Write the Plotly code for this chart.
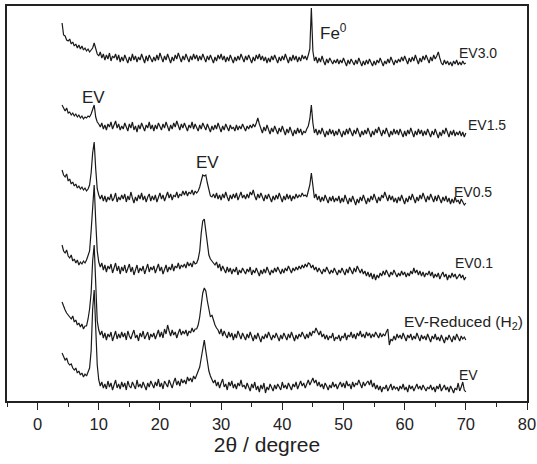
import numpy as np
import plotly.graph_objects as go

# 2-theta scan grid (degrees), 4 to 70 in 0.25 steps
two_theta = np.round(np.arange(4.0, 70.0001, 0.25), 2)

# stacked intensities (a.u., offset already included)
ev = [48, 44, 41, 43, 38, 36, 37, 33, 31, 33, 28, 30, 26, 28, 24, 27, 25, 29, 33, 50,
      92, 111, 78, 36, 21, 15, 19, 13, 17, 12, 20, 14, 18, 11, 16, 21, 13, 17, 12, 19,
      14, 18, 11, 20, 15, 13, 19, 16, 12, 21, 14, 17, 13, 19, 15, 11, 18, 14, 20, 16,
      13, 19, 15, 22, 14, 18, 12, 20, 16, 14, 21, 17, 13, 19, 23, 16, 20, 15, 22, 18,
      21, 17, 24, 20, 23, 19, 25, 22, 26, 29, 34, 43, 54, 61, 50, 38, 30, 25, 22, 18,
      21, 15, 19, 13, 18, 22, 14, 17, 11, 19, 15, 20, 13, 17, 12, 18, 15, 21, 14, 16,
      12, 18, 14, 10, 17, 13, 19, 11, 15, 9, 16, 12, 18, 8, 14, 11, 17, 13, 10, 16,
      12, 17, 14, 11, 19, 13, 16, 12, 18, 15, 11, 17, 14, 19, 12, 16, 20, 15, 18, 13,
      17, 21, 16, 19, 23, 18, 21, 15, 19, 14, 17, 12, 18, 15, 11, 16, 13, 19, 14, 17,
      12, 16, 19, 14, 18, 13, 20, 15, 17, 12, 19, 14, 18, 16, 21, 17, 13, 19, 15, 18,
      20, 16, 21, 14, 18, 12, 16, 11, 15, 9, 14, 12, 16, 10, 13, 17, 11, 15, 12, 14,
      10, 15, 12, 17, 11, 14, 9, 16, 12, 15, 10, 13, 17, 12, 15, 11, 16, 13, 10, 14,
      12, 16, 11, 14, 9, 15, 12, 17, 10, 13, 16, 11, 14, 9, 15, 12, 8, 13, 11, 18,
      10, 14, 19, 11, 9]

ev_reduced = [99, 94, 91, 88, 86, 84, 82, 85, 79, 81, 76, 78, 74, 77, 72, 75, 75, 82, 92, 108,
              140, 156, 118, 80, 71, 66, 70, 63, 68, 61, 67, 64, 69, 60, 65, 70, 62, 67, 63, 69,
              64, 68, 61, 70, 65, 62, 67, 71, 63, 66, 60, 68, 64, 70, 62, 65, 69, 61, 67, 64,
              68, 62, 66, 71, 64, 69, 63, 72, 67, 76, 70, 65, 71, 66, 69, 63, 68, 72, 66, 70,
              67, 71, 65, 70, 68, 73, 69, 72, 72, 76, 84, 98, 108, 113, 110, 100, 90, 84, 86, 80,
              76, 73, 71, 67, 72, 65, 70, 66, 63, 69, 64, 68, 61, 67, 63, 70, 65, 62, 68, 64,
              61, 67, 63, 69, 65, 60, 66, 62, 68, 64, 59, 65, 62, 67, 63, 69, 65, 61, 66, 63,
              68, 64, 60, 66, 62, 68, 65, 61, 67, 63, 69, 64, 60, 66, 62, 67, 64, 69, 65, 62,
              67, 63, 69, 65, 70, 68, 73, 69, 66, 70, 64, 67, 62, 66, 61, 65, 63, 68, 60, 64,
              62, 66, 60, 65, 63, 68, 61, 66, 64, 69, 63, 67, 62, 68, 65, 70, 64, 67, 63, 69,
              65, 68, 63, 67, 64, 69, 66, 63, 68, 64, 67, 65, 69, 72, 56, 62, 60, 65, 61, 67,
              63, 66, 62, 68, 64, 60, 66, 63, 67, 61, 65, 62, 68, 64, 60, 66, 62, 65, 61, 67,
              63, 59, 65, 62, 67, 61, 64, 60, 66, 62, 58, 64, 61, 66, 62, 59, 65, 61, 67, 63,
              60, 65, 62, 64, 61]

ev_01 = [156, 150, 148, 151, 145, 143, 146, 140, 142, 138, 141, 136, 139, 137, 140, 138, 141, 145, 150, 170,
         200, 216, 180, 150, 139, 134, 138, 131, 136, 129, 135, 132, 137, 128, 133, 138, 130, 135, 127, 134,
         130, 136, 128, 133, 137, 129, 134, 126, 132, 136, 128, 133, 130, 135, 127, 132, 137, 129, 134, 131,
         135, 128, 133, 137, 130, 134, 127, 132, 136, 129, 134, 131, 137, 130, 135, 133, 138, 132, 136, 134,
         137, 133, 139, 135, 138, 134, 140, 137, 138, 142, 150, 168, 180, 182, 170, 155, 146, 142, 140, 138,
         136, 139, 133, 137, 130, 135, 132, 128, 134, 129, 133, 127, 132, 129, 134, 126, 131, 128, 133, 130,
         127, 132, 129, 134, 126, 131, 128, 133, 129, 125, 131, 127, 132, 128, 134, 130, 126, 131, 128, 133,
         129, 134, 130, 127, 132, 128, 133, 130, 135, 131, 128, 133, 130, 134, 131, 135, 132, 136, 133, 137,
         134, 138, 137, 133, 136, 131, 134, 129, 133, 130, 127, 132, 129, 134, 130, 127, 131, 128, 133, 129,
         126, 131, 128, 133, 129, 126, 132, 128, 134, 130, 127, 133, 129, 135, 131, 128, 132, 127, 130, 125,
         129, 124, 128, 122, 127, 121, 126, 123, 128, 125, 130, 126, 131, 127, 124, 129, 126, 131, 127, 124,
         128, 125, 130, 126, 129, 124, 128, 125, 130, 127, 133, 128, 131, 126, 130, 125, 129, 124, 128, 126,
         130, 125, 129, 123, 127, 124, 128, 122, 126, 129, 124, 127, 121, 126, 123, 128, 124, 127, 122, 125,
         127, 123, 126, 121, 124]

ev_05 = [231, 226, 224, 227, 220, 222, 217, 219, 215, 217, 213, 215, 212, 214, 211, 213, 210, 212, 216, 228,
         248, 259, 232, 212, 206, 202, 206, 200, 205, 199, 204, 201, 207, 200, 203, 208, 199, 204, 201, 206,
         202, 207, 199, 205, 201, 209, 203, 198, 204, 200, 206, 202, 208, 201, 205, 199, 204, 207, 200, 205,
         201, 206, 199, 204, 208, 202, 206, 200, 205, 209, 203, 207, 201, 206, 204, 209, 203, 207, 205, 210,
         206, 210, 205, 209, 207, 211, 206, 210, 208, 210, 214, 222, 226, 225, 226, 218, 210, 205, 204, 207,
         203, 208, 202, 206, 201, 207, 203, 209, 204, 200, 206, 202, 207, 203, 208, 201, 205, 209, 203, 206,
         202, 207, 203, 209, 206, 211, 205, 201, 207, 203, 208, 204, 200, 206, 202, 207, 203, 199, 205, 201,
         206, 202, 208, 203, 199, 205, 201, 207, 202, 206, 200, 205, 202, 207, 203, 206, 204, 208, 205, 206,
         204, 210, 216, 228, 212, 203, 207, 201, 205, 199, 204, 200, 206, 201, 198, 204, 200, 205, 199, 203,
         200, 205, 198, 203, 199, 206, 201, 197, 203, 199, 205, 200, 196, 202, 198, 204, 200, 206, 201, 197,
         203, 199, 205, 201, 207, 202, 198, 204, 200, 206, 203, 209, 204, 200, 206, 201, 205, 199, 203, 198,
         204, 200, 206, 201, 197, 203, 199, 205, 201, 207, 202, 198, 204, 200, 206, 202, 208, 203, 199, 205,
         201, 207, 203, 199, 205, 200, 206, 202, 198, 204, 200, 205, 199, 203, 197, 202, 198, 204, 199, 201,
         197, 202, 199, 196, 198]

ev_15 = [296, 292, 290, 293, 288, 289, 286, 288, 285, 287, 284, 286, 283, 285, 282, 284, 283, 285, 284, 287,
         293, 296, 284, 279, 277, 274, 278, 272, 276, 271, 277, 274, 279, 272, 276, 280, 273, 277, 271, 275,
         272, 278, 274, 270, 277, 273, 279, 271, 275, 269, 276, 272, 278, 274, 270, 276, 273, 279, 272, 276,
         270, 276, 272, 278, 274, 271, 277, 273, 279, 275, 270, 276, 272, 278, 274, 280, 275, 271, 277, 273,
         278, 274, 270, 276, 273, 279, 272, 277, 274, 270, 276, 272, 278, 275, 271, 277, 273, 269, 275, 271,
         276, 272, 278, 273, 269, 275, 271, 277, 273, 270, 276, 272, 274, 270, 276, 271, 275, 272, 277, 274,
         270, 275, 272, 276, 273, 277, 274, 278, 283, 277, 272, 268, 274, 270, 276, 271, 267, 273, 269, 275,
         271, 267, 273, 269, 275, 270, 266, 272, 268, 274, 269, 265, 271, 267, 273, 268, 272, 266, 270, 268,
         272, 275, 282, 296, 278, 268, 272, 266, 271, 267, 273, 268, 264, 270, 266, 272, 267, 271, 265, 270,
         266, 272, 268, 264, 270, 266, 272, 267, 273, 269, 265, 271, 267, 273, 268, 264, 270, 266, 271, 267,
         273, 268, 264, 270, 266, 272, 268, 274, 269, 265, 271, 267, 273, 268, 264, 270, 266, 272, 267, 271,
         266, 272, 268, 264, 270, 265, 271, 267, 273, 268, 264, 270, 266, 272, 267, 271, 265, 270, 266, 272,
         268, 264, 270, 266, 272, 267, 263, 269, 265, 271, 267, 273, 268, 264, 270, 266, 271, 265, 269, 266,
         270, 265, 269, 264, 268]

ev_30 = [378, 366, 365, 361, 360, 362, 357, 359, 355, 357, 353, 356, 352, 355, 351, 353, 350, 352, 349, 351,
         353, 358, 352, 347, 345, 349, 343, 347, 341, 346, 342, 348, 340, 345, 343, 347, 341, 346, 339, 344,
         340, 346, 342, 338, 344, 340, 347, 341, 345, 339, 344, 341, 347, 342, 338, 345, 340, 346, 342, 339,
         344, 340, 346, 341, 348, 343, 339, 345, 341, 347, 342, 338, 344, 340, 346, 342, 348, 343, 339, 345,
         341, 347, 343, 339, 345, 341, 347, 342, 346, 340, 345, 341, 347, 343, 339, 345, 341, 346, 342, 338,
         344, 340, 346, 342, 347, 341, 345, 339, 344, 340, 346, 342, 338, 344, 340, 345, 341, 347, 343, 339,
         345, 341, 346, 342, 338, 344, 340, 346, 342, 347, 341, 345, 340, 344, 338, 343, 339, 345, 341, 346,
         342, 338, 344, 340, 345, 341, 347, 342, 338, 344, 340, 346, 341, 345, 339, 344, 340, 346, 342, 345,
         341, 346, 352, 393, 350, 340, 344, 338, 343, 339, 345, 340, 336, 342, 338, 343, 339, 337, 341, 338,
         342, 337, 341, 338, 343, 339, 335, 341, 337, 342, 338, 336, 341, 337, 343, 339, 335, 340, 336, 341,
         337, 342, 338, 335, 340, 336, 341, 338, 343, 339, 335, 340, 337, 342, 338, 344, 340, 336, 341, 338,
         342, 339, 344, 340, 345, 341, 337, 343, 339, 344, 340, 346, 341, 337, 343, 339, 345, 341, 346, 342,
         338, 344, 340, 346, 342, 345, 349, 343, 338, 336, 341, 337, 340, 336, 339, 335, 340, 337, 341, 336,
         339, 336, 340, 337, 338]

series = [ev, ev_reduced, ev_01, ev_05, ev_15, ev_30]

# curve labels: text, 2theta, intensity, font size
labels = ["EV", "EV-Reduced (H<sub>2</sub>)", "EV0.1", "EV0.5", "EV1.5", "EV3.0"]
label_x = [68.5, 59.5, 67.9, 67.7, 70.1, 68.5]
label_y = [26, 79, 138, 209, 276, 348]
label_size = [14, 15.5, 14, 14, 14, 14]

# peak assignments
peak_text = ["EV", "EV", "Fe<sup>0</sup>"]
peak_x = [9.2, 27.7, 45.8]
peak_y = [304, 239, 369]
peak_anchor = ["center", "center", "left"]

x_ticks = [0, 10, 20, 30, 40, 50, 60, 70, 80]

fig = go.Figure()
for s in series:
    fig.add_trace(go.Scatter(x=two_theta, y=s, mode="lines",
                             line=dict(color="#1a1a1a", width=1.2), showlegend=False,
                             hoverinfo="skip"))

ann = []
for t, x, y, fs in zip(labels, label_x, label_y, label_size):
    ann.append(dict(x=x, y=y, text=t, showarrow=False, xanchor="left", yanchor="middle",
                    font=dict(size=fs, color="#222")))
for t, x, y, a in zip(peak_text, peak_x, peak_y, peak_anchor):
    ann.append(dict(x=x, y=y, text=t, showarrow=False, xanchor=a, yanchor="middle",
                    font=dict(size=17, color="#222")))

fig.update_layout(
    width=537, height=464,
    margin=dict(l=7, r=10, t=6, b=63, autoexpand=False),
    paper_bgcolor="white", plot_bgcolor="white",
    font=dict(family="Liberation Sans, Arial, sans-serif", color="#222"),
    annotations=ann,
    xaxis=dict(range=[-5, 80], tickvals=x_ticks, ticks="outside", ticklen=7, tickwidth=1,
               tickcolor="#222", showline=True, linecolor="#222", linewidth=1.5, mirror=True,
               showgrid=False, zeroline=False, tickfont=dict(size=16.5), automargin=False,
               minor=dict(dtick=5, tick0=0, ticks="outside", ticklen=4, tickcolor="#222", showgrid=False),
               title=dict(text="2θ / degree", font=dict(size=21), standoff=2)),
    yaxis=dict(range=[0, 395], showticklabels=False, ticks="", showline=True, linecolor="#222",
               linewidth=1.5, mirror=True, showgrid=False, zeroline=False, automargin=False),
)

fig.write_html("out.html", config={"displayModeBar": False},
               post_script="document.body.style.margin='0';")
